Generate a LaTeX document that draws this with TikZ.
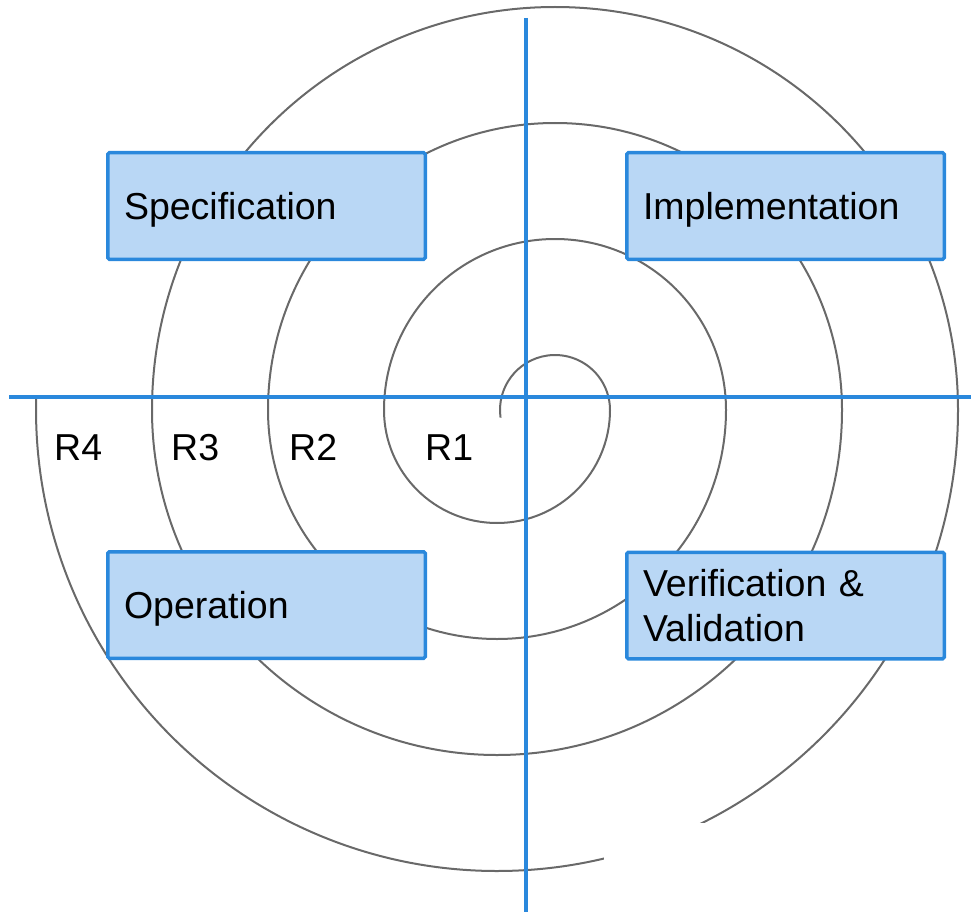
\documentclass[tikz,border=0pt]{standalone}
\usepackage{fontspec}
\setmainfont{Liberation Sans}
\definecolor{axisblue}{RGB}{42,136,220}
\definecolor{boxfill}{RGB}{185,215,245}
\definecolor{spiralgray}{RGB}{105,105,105}
\tikzset{
  spiral/.style={draw=spiralgray, line width=2pt},
  axis/.style={draw=axisblue, line width=3.5pt},
  phasebox/.style={draw=axisblue, fill=boxfill, line width=3.5pt, rounded corners=1.5pt,
    minimum width=317.5pt, minimum height=106.5pt, text width=285pt, align=left,
    inner xsep=16.25pt, inner ysep=0pt, text height=27pt, text depth=0pt,
    font=\fontsize{37.5}{45}\selectfont},
  rlabel/.style={anchor=base west, inner sep=0pt, font=\fontsize{37.5}{45}\selectfont}
}
\begin{document}
\begin{tikzpicture}[x=1pt,y=1pt]
\useasboundingbox (0,0) rectangle (971,-912);
% spiral
\draw[spiral] ([shift={(188:55pt)}]555,-410)
  arc[start angle=188, end angle=0, radius=55pt]
  arc[start angle=0, end angle=-180, radius=113pt]
  arc[start angle=180, end angle=0, radius=171pt]
  arc[start angle=0, end angle=-180, radius=229pt]
  arc[start angle=180, end angle=0, radius=287pt]
  arc[start angle=0, end angle=-180, radius=345pt]
  arc[start angle=180, end angle=0, radius=403pt]
  arc[start angle=0, end angle=-181.6, radius=461pt];
% white patch hiding part of the outer turn
\fill[white] (604,-823) rectangle (971,-912);
% axes
\coordinate (hL) at (9,-397);
\coordinate (hR) at (971,-397);
\coordinate (vT) at (526,-18);
\coordinate (vB) at (526,-912);
\draw[axis] (hL) -- (hR);
\draw[axis] (vT) -- (vB);
% phase boxes
\node[phasebox] (spec) at (266.5,-206) {Specification};
\node[phasebox] (impl) at (785.5,-206) {Implementation};
\node[phasebox] (oper) at (266.5,-605) {Operation};
\node[phasebox, text depth=45pt] (verif) at (785.5,-605.5) {Verification \&\\Validation};
% round labels
\node[rlabel] (r4) at (54,-460) {R4};
\node[rlabel] (r3) at (171,-460) {R3};
\node[rlabel] (r2) at (289,-460) {R2};
\node[rlabel] (r1) at (425,-460) {R1};
\end{tikzpicture}
\end{document}
